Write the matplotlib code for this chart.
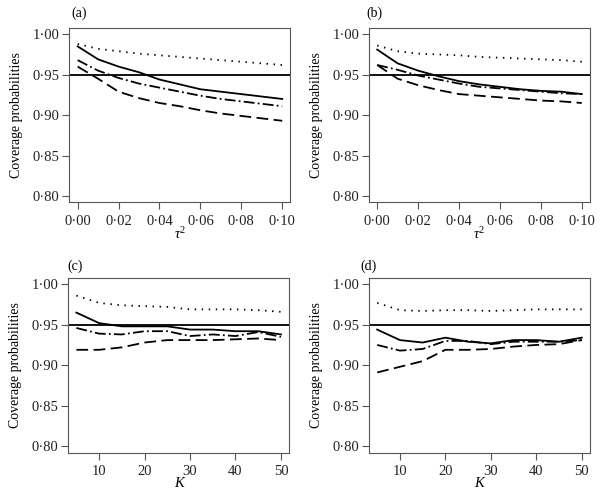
import matplotlib
matplotlib.use("Agg")
import matplotlib.pyplot as plt
from matplotlib.ticker import FuncFormatter

plt.rcParams['font.family'] = ['Liberation Serif', 'DejaVu Serif']
plt.rcParams['mathtext.fontset'] = 'custom'
plt.rcParams['mathtext.rm'] = 'Liberation Serif'
plt.rcParams['mathtext.it'] = 'Liberation Serif:italic'

# Data
tau2 = [0.00, 0.01, 0.02, 0.03, 0.04, 0.05, 0.06, 0.07, 0.08, 0.09, 0.10]
K = [5, 10, 15, 20, 25, 30, 35, 40, 45, 50]
nominal = 0.95

a_solid = [0.985, 0.969, 0.960, 0.953, 0.944, 0.938, 0.932, 0.929, 0.926, 0.923, 0.920]
a_dotted = [0.988, 0.982, 0.979, 0.976, 0.974, 0.972, 0.970, 0.968, 0.966, 0.964, 0.962]
a_dashdot = [0.968, 0.955, 0.946, 0.939, 0.934, 0.929, 0.924, 0.920, 0.917, 0.914, 0.911]
a_dashed = [0.960, 0.945, 0.929, 0.921, 0.915, 0.911, 0.906, 0.902, 0.899, 0.896, 0.893]

b_solid = [0.981, 0.964, 0.955, 0.948, 0.942, 0.938, 0.935, 0.932, 0.930, 0.929, 0.926]
b_dotted = [0.986, 0.979, 0.976, 0.975, 0.974, 0.972, 0.971, 0.970, 0.969, 0.968, 0.966]
b_dashdot = [0.962, 0.956, 0.949, 0.944, 0.939, 0.935, 0.933, 0.931, 0.929, 0.927, 0.926]
b_dashed = [0.962, 0.945, 0.937, 0.931, 0.926, 0.924, 0.922, 0.920, 0.918, 0.917, 0.915]

c_solid = [0.965, 0.952, 0.948, 0.948, 0.948, 0.944, 0.944, 0.942, 0.942, 0.938]
c_dotted = [0.986, 0.977, 0.974, 0.973, 0.972, 0.969, 0.969, 0.969, 0.968, 0.966]
c_dashdot = [0.946, 0.939, 0.938, 0.942, 0.942, 0.936, 0.938, 0.936, 0.941, 0.935]
c_dashed = [0.919, 0.919, 0.922, 0.928, 0.931, 0.931, 0.931, 0.932, 0.933, 0.931]

d_solid = [0.944, 0.931, 0.928, 0.934, 0.929, 0.927, 0.931, 0.931, 0.929, 0.934]
d_dotted = [0.977, 0.968, 0.967, 0.968, 0.968, 0.967, 0.968, 0.969, 0.969, 0.969]
d_dashdot = [0.925, 0.918, 0.920, 0.930, 0.930, 0.926, 0.929, 0.929, 0.929, 0.931]
d_dashed = [0.891, 0.898, 0.905, 0.919, 0.919, 0.920, 0.923, 0.925, 0.926, 0.931]

panels = [
    ('(a)', tau2, [a_solid, a_dotted, a_dashdot, a_dashed], 'tau'),
    ('(b)', tau2, [b_solid, b_dotted, b_dashdot, b_dashed], 'tau'),
    ('(c)', K, [c_solid, c_dotted, c_dashdot, c_dashed], 'K'),
    ('(d)', K, [d_solid, d_dotted, d_dashdot, d_dashed], 'K'),
]

positions = [
    [0.1154, 0.5926, 0.367, 0.3515],
    [0.6130, 0.5926, 0.367, 0.3515],
    [0.1133, 0.0895, 0.367, 0.3515],
    [0.6130, 0.0895, 0.367, 0.3515],
]
label_xy = [(0.007, 1.085), (-0.01, 1.085), (-0.005, 1.068), (-0.04, 1.068)]

styles = [
    dict(linestyle='-'),
    dict(linestyle=(0, (0.8, 3.1))),
    dict(linestyle=(0, (6, 1.8, 1, 1.8))),
    dict(linestyle=(0, (6.5, 3))),
]

dot_fmt = FuncFormatter(lambda v, p: f'{v:.2f}'.replace('.', '\u00b7'))

fig = plt.figure(figsize=(6.02, 4.97), dpi=100)

for (lab, x, series, kind), pos, lxy in zip(panels, positions, label_xy):
    ax = fig.add_axes(pos)
    ax.axhline(nominal, color='black', lw=1.3)
    for y, st in zip(series, styles):
        ax.plot(x, y, color='black', lw=1.3, **st)
    ax.set_ylim(0.792, 1.008)
    ax.set_yticks([0.80, 0.85, 0.90, 0.95, 1.00])
    ax.yaxis.set_major_formatter(dot_fmt)
    if kind == 'tau':
        ax.set_xlim(-0.004, 0.104)
        ax.set_xticks([0.00, 0.02, 0.04, 0.06, 0.08, 0.10])
        ax.xaxis.set_major_formatter(dot_fmt)
        ax.set_xlabel(r'$\tau^2$', fontsize=10.5, labelpad=-1)
    else:
        ax.set_xlim(3.2, 51.8)
        ax.set_xticks([10, 20, 30, 40, 50])
        ax.set_xlabel('K', fontsize=10.5, fontstyle='italic', labelpad=-1)
    ax.set_ylabel('Coverage probabilities', fontsize=10, labelpad=7)
    ax.tick_params(direction='out', length=5, width=0.8, labelsize=10.5, color='#555555',
                   labelcolor='#222222')
    ax.tick_params(axis='x', pad=4)
    ax.tick_params(axis='y', pad=2)
    for s in ax.spines.values():
        s.set_color('#555555')
        s.set_linewidth(0.8)
    ax.text(lxy[0], lxy[1], lab, transform=ax.transAxes, fontsize=10, va='center', ha='left')

fig.savefig('out.png', dpi=100)
